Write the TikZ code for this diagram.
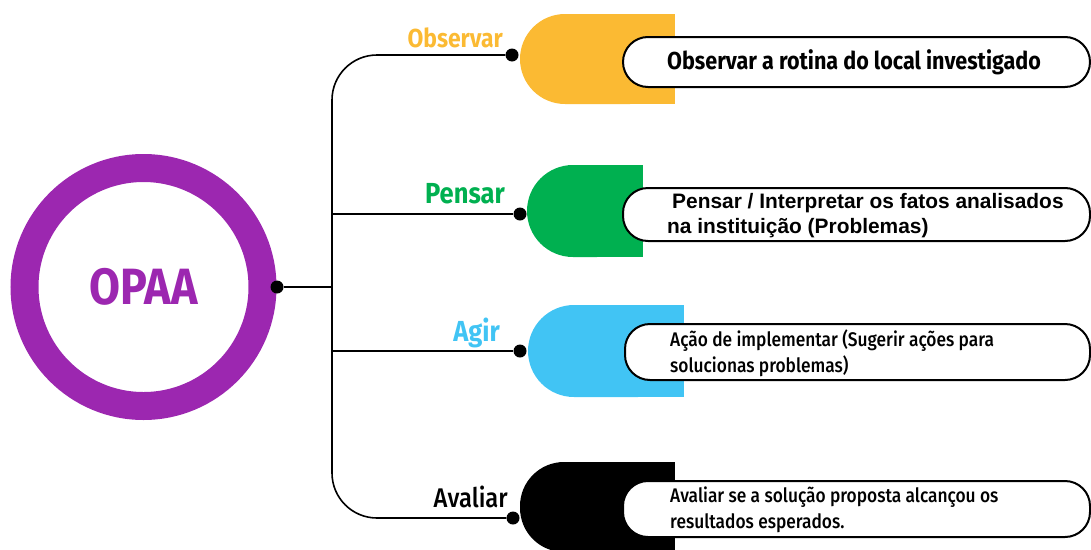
\documentclass[tikz,border=0pt]{standalone}
\usepackage{fontspec}
\newfontfamily\fira[FakeStretch=0.88]{Fira Sans}
\newfontfamily\firam[FakeStretch=0.88]{Fira Sans Medium}
\newfontfamily\arialb{Liberation Sans}
\definecolor{cyel}{HTML}{FBBA33}
\definecolor{cgrn}{HTML}{00B050}
\definecolor{cblu}{HTML}{41C4F4}
\definecolor{cpur}{HTML}{9C27B0}
\tikzset{
  dot/.style={circle, fill=black, inner sep=0pt, minimum size=13},
  pill/.style={draw=black, line width=2, fill=white, rounded corners=25, inner sep=0pt},
  conn/.style={draw=black, line width=1.6},
  lbl/.style={inner sep=0pt, anchor=base east},
  txt/.style={inner sep=0pt, anchor=west, align=left},
}
\begin{document}
\begin{tikzpicture}[x=1pt,y=-1pt]
\useasboundingbox (0,0) rectangle (1091,549);
% central circle
\node[circle, draw=cpur, line width=28, minimum size=238, inner sep=0pt,
      text=cpur, font=\fira\bfseries\fontsize{51}{56}\selectfont] (opaa) at (143.5,287) {OPAA};
% colored half shapes
\fill[cyel, rounded corners=45] (520,14) rectangle (675,104);
\fill[cyel] (600,14) rectangle (675,104);
\fill[cgrn, rounded corners=46] (527,165) rectangle (643,257);
\fill[cgrn] (590,165) rectangle (643,257);
\fill[cblu, rounded corners=46] (528,305) rectangle (684,397);
\fill[cblu] (600,305) rectangle (684,397);
\fill[black, rounded corners=44] (520,462) rectangle (675,552);
\fill[black] (600,462) rectangle (675,552);
% dots
\node[dot] (d0) at (277,287) {};
\coordinate (j) at (332,287);
\node[dot] (d1) at (512,55) {};
\node[dot] (d2) at (520,214) {};
\node[dot] (d3) at (520,351) {};
\node[dot] (d4) at (513,518) {};
% connectors
\draw[conn] (d0) -- (j);
\draw[conn, rounded corners=45] (d1) -| (j) |- (d4);
\draw[conn] (j |- d2) -- (d2);
\draw[conn] (j |- d3) -- (d3);
% labels
\node[lbl, text=cyel, font=\fira\bfseries\fontsize{26}{30}\selectfont] (l1) at (503,47) {Observar};
\node[lbl, text=cgrn, font=\fira\bfseries\fontsize{29}{32}\selectfont] (l2) at (505,203) {Pensar};
\node[lbl, text=cblu, font=\fira\bfseries\fontsize{29}{32}\selectfont] (l3) at (500,341) {Agir};
\node[lbl, text=black, font=\firam\fontsize{27}{30}\selectfont] (l4) at (508,507) {Avaliar};
% pills
\node[pill, minimum width=467, minimum height=50, anchor=west] (b1) at (622,62) {};
\node[pill, minimum width=467, minimum height=53, anchor=west] (b2) at (622,214.5) {};
\node[pill, minimum width=465, minimum height=56, anchor=west] (b3) at (624,352) {};
\node[pill, minimum width=467, minimum height=56, anchor=west] (b4) at (622,509) {};
% texts
\node[txt, font=\fira\bfseries\fontsize{24.5}{28}\selectfont] (t1) at (667,62) {Observar a rotina do local investigado};
\node[txt, font=\arialb\bfseries\fontsize{20.9}{25}\selectfont] (t2) at (667,216) {\hspace*{5pt}Pensar / Interpretar os fatos analisados\\na instituição (Problemas)};
\node[txt, font=\firam\fontsize{19.7}{26}\selectfont] (t3) at (670,353) {Ação de implementar (Sugerir ações para\\solucionas problemas)};
\node[txt, font=\firam\fontsize{19.7}{26}\selectfont] (t4) at (670,510) {Avaliar se a solução proposta alcançou os\\resultados esperados.};
\end{tikzpicture}
\end{document}
